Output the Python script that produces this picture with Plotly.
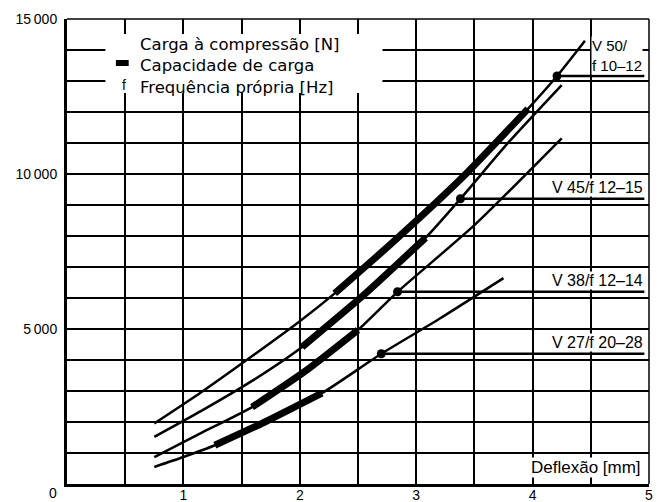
import plotly.graph_objects as go

# Compressive load [N] against deflection [mm] for each spring size
v27_x = [0.75, 1.0, 1.27, 1.7, 2.19, 2.7, 3.2, 3.75]
v27_y = [550, 870, 1250, 2000, 2930, 4200, 5330, 6640]
v38_x = [0.75, 1.15, 1.59, 2.05, 2.5, 2.84, 3.5, 4.25]
v38_y = [870, 1640, 2480, 3650, 4970, 6200, 8350, 11150]
v45_x = [0.75, 1.15, 1.6, 2.02, 2.55, 3.08, 3.38, 3.8, 4.25]
v45_y = [1520, 2350, 3350, 4420, 6100, 7940, 9200, 11050, 12870]
v50_x = [0.75, 1.15, 1.6, 2.0, 2.3, 2.8, 3.4, 3.96, 4.21, 4.45]
v50_y = [1950, 2950, 4150, 5250, 6150, 7800, 9900, 12100, 13160, 14300]

# Load-capacity range (deflection from/to) on each curve
cap_from = [1.27, 1.59, 2.02, 2.3]
cap_to = [2.19, 2.5, 3.08, 3.96]

# Natural-frequency marker: point on the curve and its label
freq_x = [2.7, 2.84, 3.38, 4.21]
freq_y = [4200, 6200, 9200, 13160]
freq_labels = ["V 27/f 20–28", "V 38/f 12–14", "V 45/f 12–15"]
v50_label = "V 50/<br>f 10–12"

# Axis ticks
x_ticks = [1, 2, 3, 4, 5]
y_ticks = [5000, 10000, 15000]
y_tick_text = ["5\u2009000", "10\u2009000", "15\u2009000"]

legend_lines = ["Carga à compressão [N]", "Capacidade de carga", "Frequência própria [Hz]"]
x_label = "Deflexão [mm]"

FONT = "Liberation Sans"
LEG_FONT = "DejaVu Sans"
INK = "black"

curves = [(v27_x, v27_y), (v38_x, v38_y), (v45_x, v45_y), (v50_x, v50_y)]

fig = go.Figure()

for (xs, ys), a, b in zip(curves, cap_from, cap_to):
    fig.add_trace(go.Scatter(x=xs, y=ys, mode="lines",
                             line=dict(color=INK, width=2.5, shape="spline", smoothing=0.6),
                             hoverinfo="skip"))
    sx = [x for x in xs if a <= x <= b]
    sy = [y for x, y in zip(xs, ys) if a <= x <= b]
    fig.add_trace(go.Scatter(x=sx, y=sy, mode="lines",
                             line=dict(color=INK, width=7, shape="spline", smoothing=0.6),
                             hoverinfo="skip"))

X_END = 4.96
for fx, fy in zip(freq_x, freq_y):
    fig.add_trace(go.Scatter(x=[fx, X_END], y=[fy, fy], mode="lines",
                             line=dict(color=INK, width=2.5), hoverinfo="skip"))
fig.add_trace(go.Scatter(x=freq_x, y=freq_y, mode="markers",
                         marker=dict(color=INK, size=9), hoverinfo="skip"))

# frequency labels above their lines
for fy, txt in zip(freq_y[:3], freq_labels):
    fig.add_annotation(x=4.955, y=fy, xref="x", yref="y", text=txt, showarrow=False,
                       xanchor="right", yanchor="middle", yshift=11,
                       font=dict(family=FONT, size=16, color=INK),
                       bgcolor="white", borderpad=0)
fig.add_annotation(x=4.50, y=freq_y[3], xref="x", yref="y", text=v50_label, showarrow=False,
                   xanchor="left", yanchor="bottom", align="left", yshift=1,
                   font=dict(family=FONT, size=15, color=INK), bgcolor="white", borderpad=0)

# legend box
fig.add_shape(type="rect", x0=0.33, x1=2.71, y0=12610, y1=14516, xref="x", yref="y",
              fillcolor="white", line=dict(width=0), layer="between")
fig.add_shape(type="line", x0=0.42, x1=0.53, y0=13580, y1=13580, xref="x", yref="y",
              line=dict(color=INK, width=6))
fig.add_annotation(x=0.49, y=12870, xref="x", yref="y", text="f", showarrow=False,
                   font=dict(family=FONT, size=14, color=INK))
fig.add_annotation(x=0.614, y=13470, xref="x", yref="y", text="<br>".join(legend_lines),
                   showarrow=False, xanchor="left", yanchor="middle", align="left",
                   font=dict(family=LEG_FONT, size=16.5, color=INK))

fig.add_annotation(x=4.94, y=548, xref="x", yref="y", text=x_label, showarrow=False,
                   xanchor="right", yanchor="middle",
                   font=dict(family=FONT, size=17, color=INK), bgcolor="white", borderpad=0)

# shared origin label
fig.add_annotation(x=-0.024, y=-0.02, xref="paper", yref="paper", text="0", showarrow=False,
                   xanchor="center", yanchor="middle",
                   font=dict(family=FONT, size=14, color=INK))

# thin top and right frame
fig.add_shape(type="line", x0=0, x1=1, y0=1, y1=1, xref="paper", yref="paper",
              line=dict(color=INK, width=1.5))
fig.add_shape(type="line", x0=1, x1=1, y0=0, y1=1, xref="paper", yref="paper",
              line=dict(color=INK, width=1.5))

grid = dict(showgrid=True, gridcolor=INK, gridwidth=1.6)
fig.update_layout(
    width=661, height=502,
    margin=dict(l=67, r=12, t=19, b=18, autoexpand=False),
    paper_bgcolor="white", plot_bgcolor="white",
    showlegend=False,
    xaxis=dict(range=[0, 5], tickvals=x_ticks, ticks="", ticklen=0, showline=True, linewidth=3,
               linecolor=INK, zeroline=False, ticklabelstandoff=-4, automargin=False,
               tickfont=dict(family=FONT, size=14, color=INK),
               minor=dict(dtick=0.5, **grid), **grid),
    yaxis=dict(range=[0, 15000], tickvals=y_ticks, ticktext=y_tick_text, ticks="",
               showline=True, linewidth=3, linecolor=INK, zeroline=False,
               ticklabelstandoff=4, automargin=False,
               tickfont=dict(family=FONT, size=14, color=INK),
               minor=dict(dtick=1000, **grid), **grid),
)

fig.write_html("out.html")
